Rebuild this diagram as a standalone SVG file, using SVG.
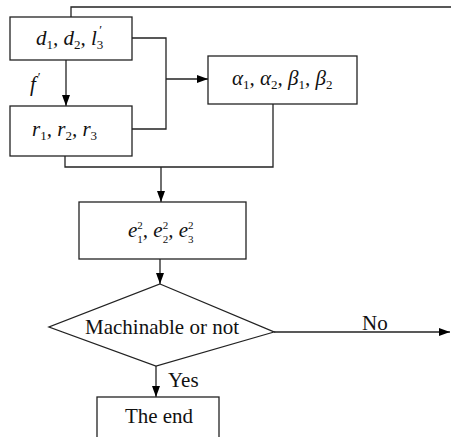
<svg xmlns="http://www.w3.org/2000/svg" width="451" height="437" viewBox="0 0 451 437">
<defs>
<marker id="ah" markerUnits="userSpaceOnUse" markerWidth="12" markerHeight="8" refX="11" refY="4" orient="auto"><path d="M0,0 L11,4 L0,8 Z" fill="#000"/></marker>
<style>
.box{fill:#fff;stroke:#222;stroke-width:1.3}
.ln{fill:none;stroke:#222;stroke-width:1.3}
.m{font-family:"Liberation Serif",serif;font-style:italic;font-size:21px;fill:#111}
.t{font-family:"Liberation Serif",serif;font-size:21px;fill:#111}
.s{font-size:13px;font-style:normal}
.ss{font-size:11px;font-style:normal}
</style>
</defs>
<rect width="451" height="437" fill="#fff"/>
<g id="connectors">
<path class="ln" d="M71 17 V7 H451"/>
<path class="ln" d="M132 38 H166 V129 H132"/>
<path class="ln" d="M166 79 H208" marker-end="url(#ah)"/>
<path class="ln" d="M66 60 V106" marker-end="url(#ah)"/>
<path class="ln" d="M65 156 V167 H273 V104"/>
<path class="ln" d="M161 167 V202" marker-end="url(#ah)"/>
<path class="ln" d="M160 259 V284" marker-end="url(#ah)"/>
<path class="ln" d="M274 332 H450" marker-end="url(#ah)"/>
<path class="ln" d="M156 366 V397" marker-end="url(#ah)"/>
<text class="m" x="30" y="91">f<tspan class="s" dx="2" dy="-10">′</tspan></text>
<text class="t" x="362" y="330">No</text>
<text class="t" x="168" y="387">Yes</text>
</g>
<g id="n1">
<rect class="box" x="10" y="17" width="122" height="43"/>
<text class="m" x="36" y="45">d<tspan class="s" dy="4">1</tspan><tspan dy="-4">, d</tspan><tspan class="s" dy="4">2</tspan><tspan dy="-4">, l</tspan><tspan class="s" dy="4">3</tspan><tspan class="s" dx="-4" dy="-15">′</tspan></text>
</g>
<g id="n2">
<rect class="box" x="10" y="106" width="122" height="50"/>
<text class="m" x="32" y="136">r<tspan class="s" dy="4">1</tspan><tspan dy="-4">, r</tspan><tspan class="s" dy="4">2</tspan><tspan dy="-4">, r</tspan><tspan class="s" dy="4">3</tspan></text>
</g>
<g id="n3">
<rect class="box" x="208" y="56" width="149" height="48"/>
<text class="m" x="232" y="85">α<tspan class="s" dy="4">1</tspan><tspan dy="-4">, α</tspan><tspan class="s" dy="4">2</tspan><tspan dy="-4">, β</tspan><tspan class="s" dy="4">1</tspan><tspan dy="-4">, β</tspan><tspan class="s" dy="4">2</tspan></text>
</g>
<g id="n4">
<rect class="box" x="79" y="202" width="167" height="57"/>
<text class="m" x="128" y="237">e<tspan class="ss" dy="6">1</tspan><tspan class="ss" dx="-5.5" dy="-14">2</tspan><tspan dy="8">, e</tspan><tspan class="ss" dy="6">2</tspan><tspan class="ss" dx="-5.5" dy="-14">2</tspan><tspan dy="8">, e</tspan><tspan class="ss" dy="6">3</tspan><tspan class="ss" dx="-5.5" dy="-14">2</tspan></text>
</g>
<g id="n5">
<path class="box" d="M160 284 L274 332 L156 366 L49 327 Z"/>
<text class="t" x="162" y="334" text-anchor="middle">Machinable or not</text>
</g>
<g id="n6">
<rect class="box" x="97" y="397" width="122" height="50"/>
<text class="t" x="159" y="423" text-anchor="middle">The end</text>
</g>
</svg>
